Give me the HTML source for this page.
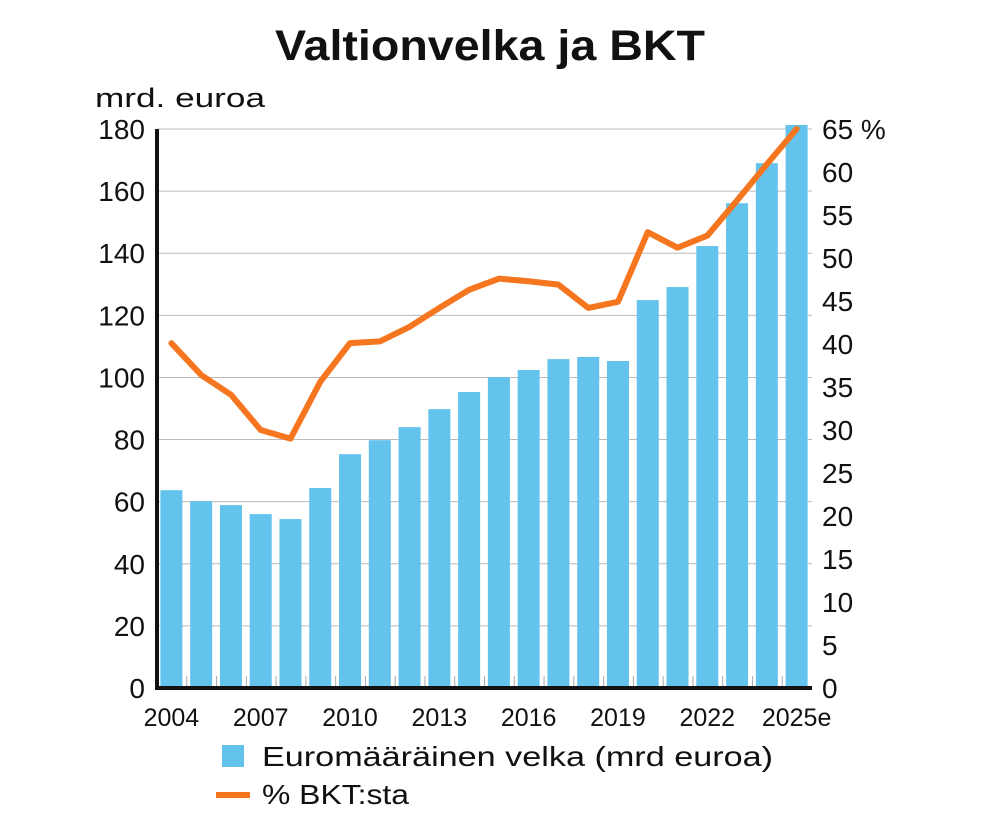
<!DOCTYPE html>
<html><head><meta charset="utf-8"><style>
body{margin:0;background:#fff}
svg text{font-family:"Liberation Sans","DejaVu Sans",sans-serif;fill:#111}
</style></head><body>
<svg id="chart" width="1000" height="819" xmlns="http://www.w3.org/2000/svg">
<text x="275" y="60" font-size="43" font-weight="bold" textLength="430" lengthAdjust="spacingAndGlyphs">Valtionvelka ja BKT</text>
<text x="95" y="107" font-size="27" textLength="170" lengthAdjust="spacingAndGlyphs">mrd. euroa</text>
<g id="grid"></g><g id="bars"></g><g id="line"></g><g id="axes"></g>
<rect x="222" y="745" width="22" height="22" fill="#63c3ec"/>
<text x="262" y="766" font-size="28" textLength="511" lengthAdjust="spacingAndGlyphs">Euromääräinen velka (mrd euroa)</text>
<line x1="216" y1="795" x2="250" y2="795" stroke="#f5761f" stroke-width="6"/>
<text x="262" y="804" font-size="28" textLength="147" lengthAdjust="spacingAndGlyphs">% BKT:sta</text>
</svg>
<script>
const years=[2004,2005,2006,2007,2008,2009,2010,2011,2012,2013,2014,2015,2016,2017,2018,2019,2020,2021,2022,2023,2024,2025];
const debt=[63.7,60.2,58.9,56,54.4,64.4,75.3,79.8,84,89.8,95.3,100.1,102.4,105.9,106.6,105.3,124.9,129.1,142.3,156.1,169,181.3];
const pctGdp=[40.1,36.4,34.1,30,29,35.6,40.1,40.3,42,44.2,46.3,47.6,47.3,46.9,44.2,44.9,53,51.2,52.6,56.7,60.9,65];
const leftTicks=[0,20,40,60,80,100,120,140,160,180];
const rightTicks=[0,5,10,15,20,25,30,35,40,45,50,55,60,65];
const xLabels=["2004","2007","2010","2013","2016","2019","2022","2025e"];
const NS="http://www.w3.org/2000/svg";
const X0=157,X1=812,Y0=688,Y1=129;
const step=(X1-X0)/years.length;
const xc=i=>X0+step*(i+0.5)-0.5;
const yL=v=>Y0-(v/180)*(Y0-Y1);
const yR=v=>Y0-(v/65)*(Y0-Y1);
function mk(tag,attrs,parent){const e=document.createElementNS(NS,tag);for(const k in attrs)e.setAttribute(k,attrs[k]);document.getElementById(parent).appendChild(e);return e;}
leftTicks.forEach(t=>{
 if(t>0){const g=mk('line',{x1:X0,x2:X1,y1:yL(t),y2:yL(t),stroke:'#bbb','stroke-width':1},'grid');
 
 }
 const tx=mk('text',{x:145,y:yL(t)+10,'text-anchor':'end','font-size':28},'axes');tx.textContent=t;
 
 
});
rightTicks.forEach(t=>{
 const tx=mk('text',{x:822,y:yR(t)+10,'font-size':28},'axes');tx.textContent=t+(t===65?' %':'');
 
 
});
debt.forEach((v,i)=>{
 const r=mk('rect',{x:xc(i)-11,y:yL(v),width:22,height:Y0-yL(v),fill:'#63c3ec'},'bars');
 
 
 if(i>0){const tk=mk('line',{x1:X0+step*i,x2:X0+step*i,y1:Y0-12,y2:Y0,stroke:'#aaa','stroke-width':1},'bars');
 
 }
});
const p=mk('polyline',{points:pctGdp.map((v,i)=>xc(i)+','+yR(v)).join(' '),fill:'none',stroke:'#f5761f','stroke-width':6,'stroke-linejoin':'round','stroke-linecap':'round'},'line');


const ax=mk('polyline',{points:`${X0},${Y1} ${X0},${Y0} ${X1},${Y0}`,fill:'none',stroke:'#111','stroke-width':4},'axes');


xLabels.forEach(l=>{
 const i=years.indexOf(parseInt(l));
 const tx=mk('text',{x:xc(i),y:726,'text-anchor':'middle','font-size':25},'axes');tx.textContent=l;
 
 
});
</script>
</body></html>
